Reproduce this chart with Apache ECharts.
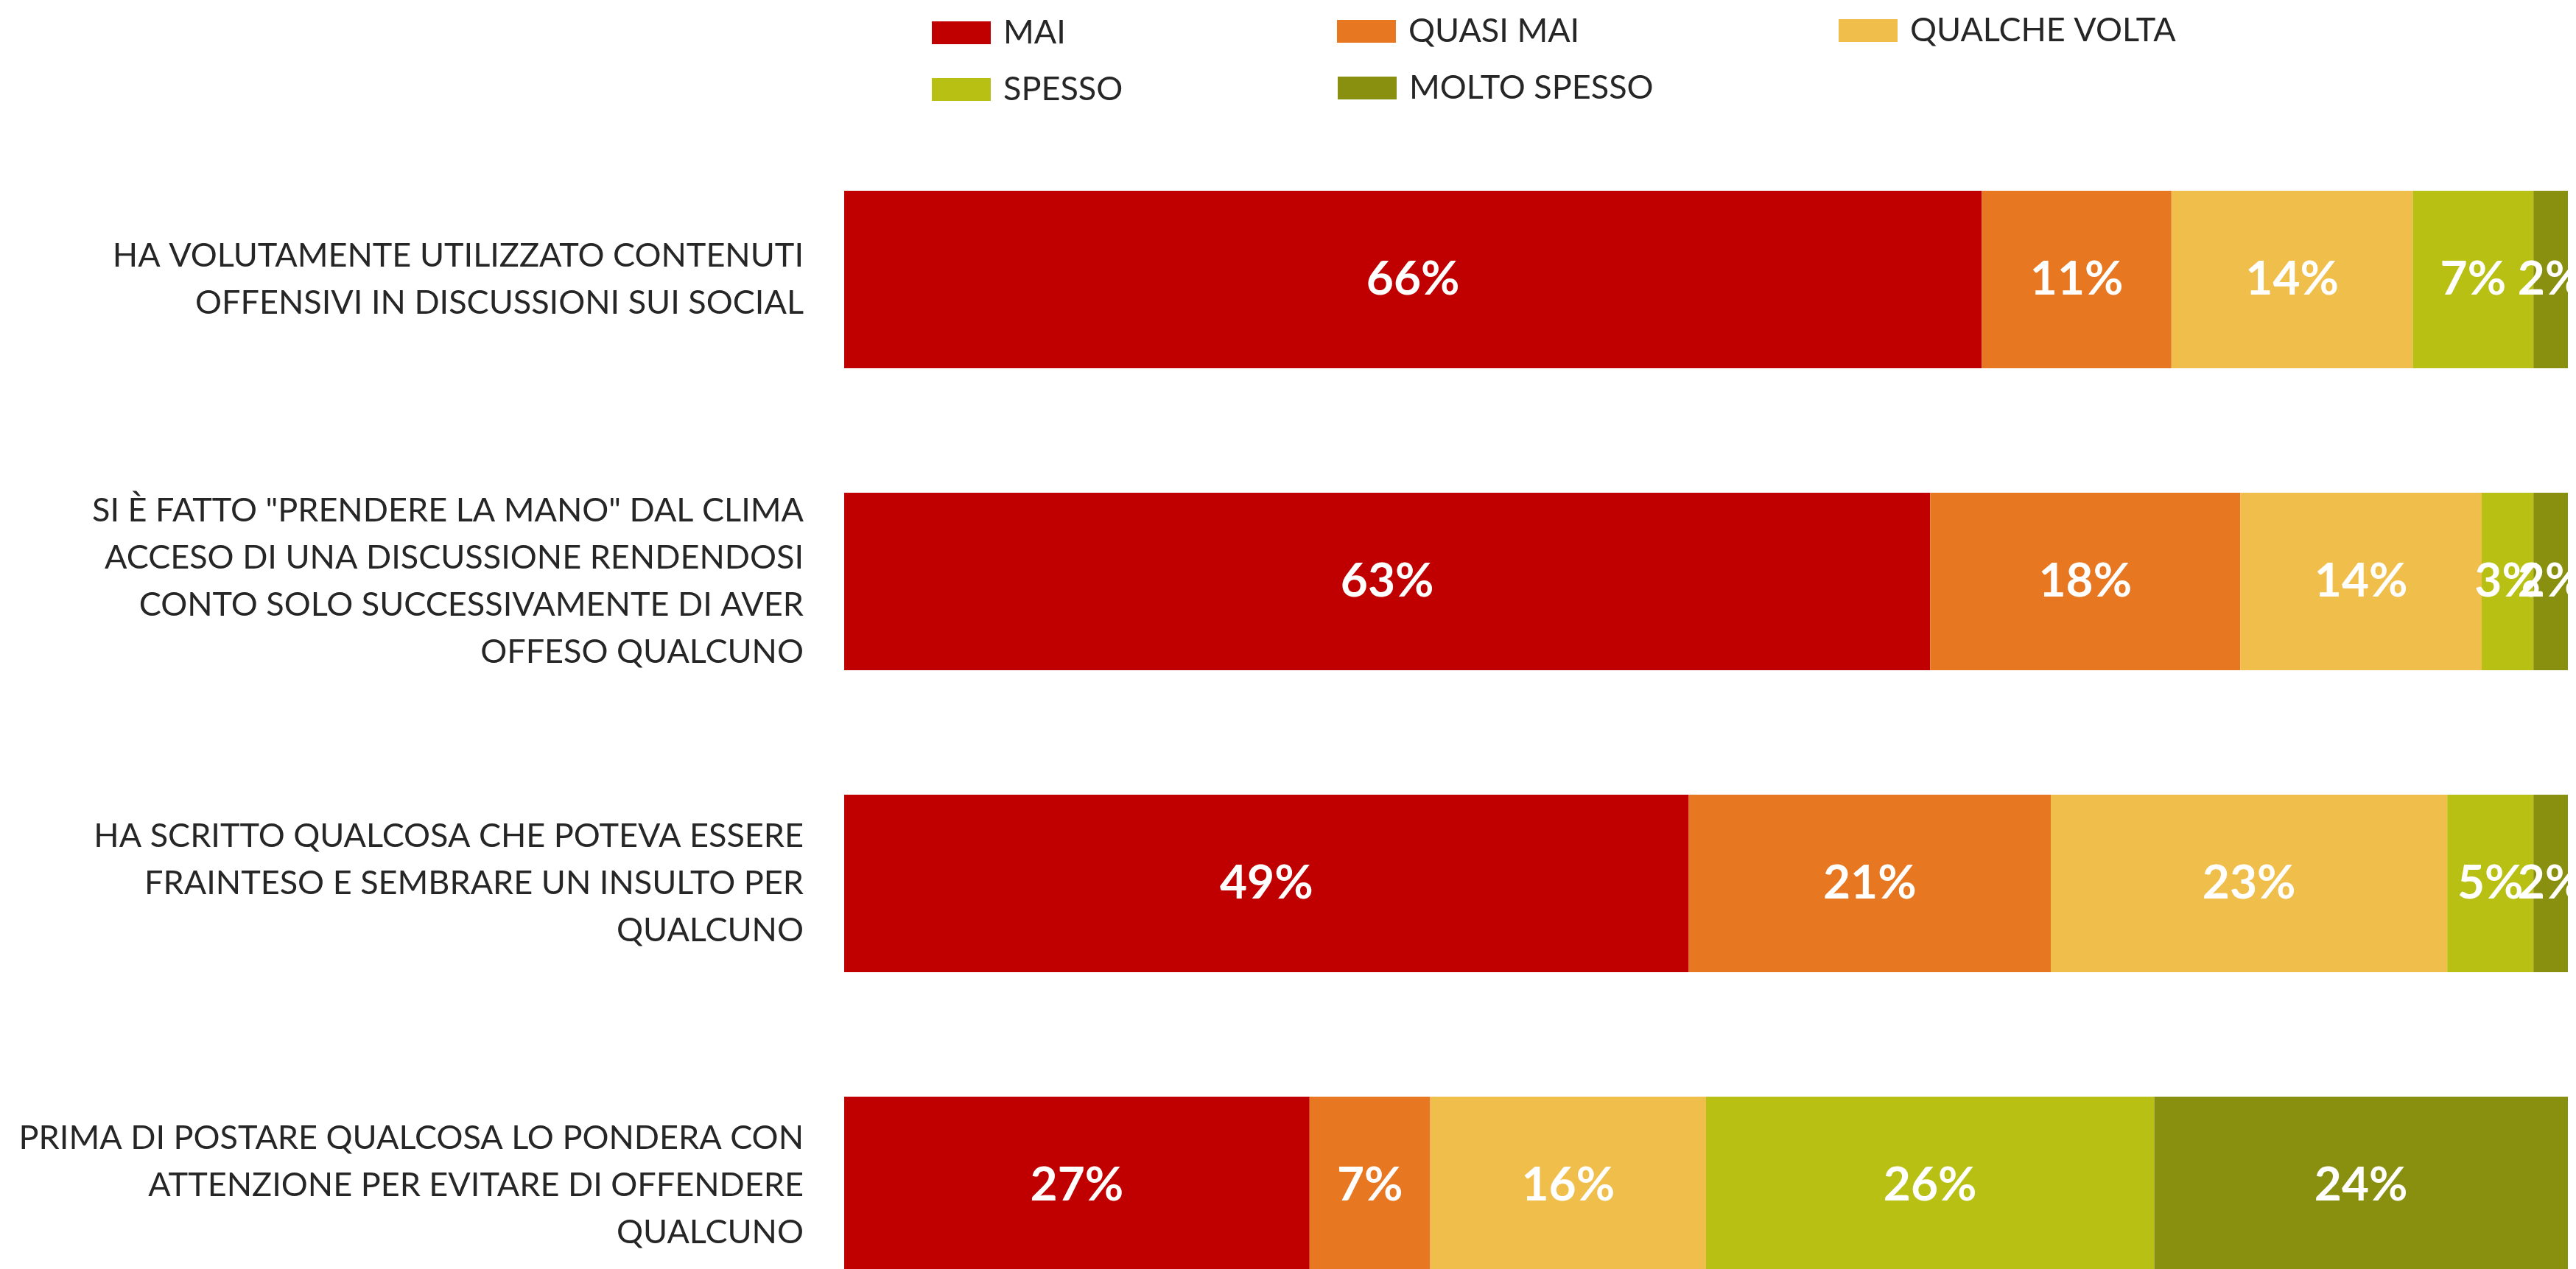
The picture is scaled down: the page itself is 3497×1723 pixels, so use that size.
<!DOCTYPE html>
<html>
<head>
<meta charset="utf-8">
<script src="https://cdn.jsdelivr.net/npm/echarts@6/dist/echarts.min.js"></script>
<style>html,body{margin:0;padding:0;background:#fff}#c{width:3497px;height:1723px}</style>
</head>
<body>
<div id="c"></div>
<script>
const categories = [
  'HA VOLUTAMENTE UTILIZZATO CONTENUTI\nOFFENSIVI IN DISCUSSIONI SUI SOCIAL',
  'SI È FATTO "PRENDERE LA MANO" DAL CLIMA\nACCESO DI UNA DISCUSSIONE RENDENDOSI\nCONTO SOLO SUCCESSIVAMENTE DI AVER\nOFFESO QUALCUNO',
  'HA SCRITTO QUALCOSA CHE POTEVA ESSERE\nFRAINTESO E SEMBRARE UN INSULTO PER\nQUALCUNO',
  'PRIMA DI POSTARE QUALCOSA LO PONDERA CON\nATTENZIONE PER EVITARE DI OFFENDERE\nQUALCUNO'
];
const seriesNames = ['MAI', 'QUASI MAI', 'QUALCHE VOLTA', 'SPESSO', 'MOLTO SPESSO'];
const mai = [66, 63, 49, 27];
const quasiMai = [11, 18, 21, 7];
const qualcheVolta = [14, 14, 23, 16];
const spesso = [7, 3, 5, 26];
const moltoSpesso = [2, 2, 2, 24];
const colors = ['#C00000', '#E87722', '#F0BE4B', '#B8C014', '#899010'];

const values = [mai, quasiMai, qualcheVolta, spesso, moltoSpesso];
const legendPos = [
  {left: 1265, top: 22},
  {left: 1815, top: 20},
  {left: 2496, top: 19},
  {left: 1265, top: 99},
  {left: 1816, top: 97}
];

const chart = echarts.init(document.getElementById('c'), null, {renderer: 'canvas'});
chart.setOption({
  backgroundColor: '#ffffff',
  animation: false,
  color: colors,
  legend: seriesNames.map((n, i) => ({
    data: [n],
    left: legendPos[i].left,
    top: legendPos[i].top,
    padding: 0,
    itemWidth: 80,
    itemHeight: 31,
    icon: 'rect',
    selectedMode: false,
    textStyle: {fontFamily: 'Lato', fontSize: 45, color: '#262626', padding: [0, 0, 0, 12]}
  })),
  grid: {left: 1146, top: 174.5, width: 2340, height: 1640, containLabel: false, outerBoundsMode: 'none'},
  xAxis: {
    type: 'value', min: 0, max: 100, show: false
  },
  yAxis: {
    type: 'category', data: categories, inverse: true,
    axisLine: {show: false}, axisTick: {show: false},
    axisLabel: {margin: 55, fontFamily: 'Lato', fontSize: 45, lineHeight: 64, color: '#262626', align: 'right'}
  },
  series: seriesNames.map((n, i) => ({
    name: n, type: 'bar', stack: 'total', data: values[i],
    barWidth: 241,
    itemStyle: {color: colors[i]},
    label: {
      show: true, position: 'inside', formatter: '{c}%',
      fontFamily: 'Lato', fontWeight: 'bold', fontSize: 64, color: '#ffffff'
    }
  }))
});
</script>
</body>
</html>
